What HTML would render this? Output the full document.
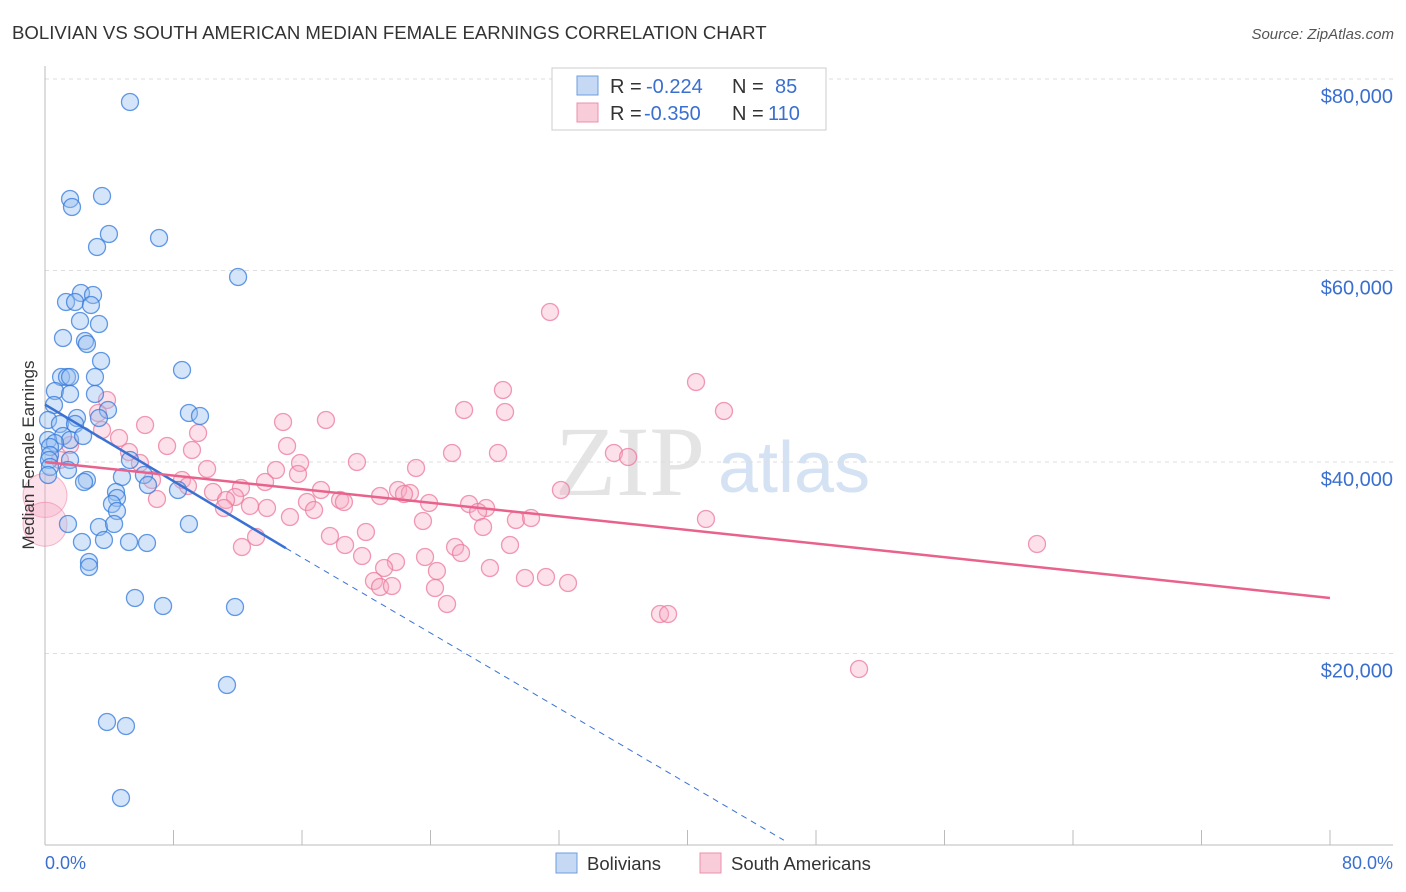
<!DOCTYPE html>
<html><head><meta charset="utf-8"><style>
body{margin:0;background:#fff;font-family:"Liberation Sans",sans-serif;}
svg{display:block}
</style></head><body>
<svg id="chart" width="1406" height="892">
<text x="12" y="39" font-size="18.6" fill="#333">BOLIVIAN VS SOUTH AMERICAN MEDIAN FEMALE EARNINGS CORRELATION CHART</text>
<text x="1394" y="39" font-size="15" fill="#555" text-anchor="end" font-style="italic">Source: ZipAtlas.com</text>
<text x="555" y="495" font-size="100" fill="#e4e4e4" font-family="Liberation Serif">ZIP</text>
<text x="718" y="492" font-size="72" fill="#d4e2f3">atlas</text>
<g id="grid"></g><g id="marks"></g>
<text transform="translate(34,455) rotate(-90)" font-size="17" fill="#333" text-anchor="middle">Median Female Earnings</text>
<text x="45" y="869" font-size="18" fill="#3a6fd0">0.0%</text>
<text x="1393" y="869" font-size="18" fill="#3a6fd0" text-anchor="end">80.0%</text>
<g>
<rect x="552" y="68" width="274" height="62" fill="#fff" stroke="#ccc"/>
<rect x="577" y="76" width="21" height="19" fill="#c5d9f5" stroke="#6d9de0"/>
<text x="610" y="93" font-size="20" fill="#333">R =</text><text x="646" y="93" font-size="20" fill="#3a6fd0">-0.224</text>
<text x="732" y="93" font-size="20" fill="#333">N =</text><text x="775" y="93" font-size="20" fill="#3a6fd0">85</text>
<rect x="577" y="103" width="21" height="19" fill="#f9ccd9" stroke="#ec8fab"/>
<text x="610" y="120" font-size="20" fill="#333">R =</text><text x="644" y="120" font-size="20" fill="#3a6fd0">-0.350</text>
<text x="732" y="120" font-size="20" fill="#333">N =</text><text x="768" y="120" font-size="20" fill="#3a6fd0">110</text>
</g>
<g><rect x="556" y="853" width="21" height="20" fill="#c5d9f5" stroke="#6d9de0"/><text x="587" y="870" font-size="18.5" fill="#333">Bolivians</text></g>
<g><rect x="700" y="853" width="21" height="20" fill="#f9ccd9" stroke="#ec8fab"/><text x="731" y="870" font-size="18.5" fill="#333">South Americans</text></g>
</svg>
<script>
const yTicks=[20000,40000,60000,80000];
const yTickLabels=["$20,000","$40,000","$60,000","$80,000"];
const bolPx=[[130,102],[102,196],[70,199],[72,207],[109,234],[159,238],[97,247],[238,277],[81,293],[93,295],[66,302],[75,302],[91,305],[80,321],[99,324],[63,338],[85,341],[87,344],[101,361],[182,370],[61,377],[67,377],[70,377],[95,377],[55,391],[70,394],[95,394],[54,405],[108,410],[189,413],[200,416],[77,418],[99,418],[48,420],[60,424],[75,424],[63,436],[70,440],[83,436],[48,440],[55,443],[50,447],[50,455],[49,460],[70,460],[50,467],[48,475],[68,470],[130,460],[144,475],[87,480],[84,482],[148,485],[178,490],[122,477],[116,492],[117,498],[112,504],[117,511],[68,524],[99,527],[114,524],[189,524],[82,542],[104,540],[129,542],[147,543],[89,562],[89,567],[135,598],[163,606],[235,607],[227,685],[107,722],[126,726],[121,798]];
const saPx=[[550,312],[696,382],[503,390],[107,400],[464,410],[505,412],[724,411],[98,413],[326,420],[145,425],[283,422],[198,433],[119,438],[102,430],[167,446],[192,450],[129,452],[287,446],[498,453],[452,453],[614,453],[628,457],[357,462],[300,463],[140,463],[207,469],[416,468],[276,470],[298,474],[182,480],[188,486],[152,480],[265,482],[321,490],[241,488],[213,492],[235,497],[226,500],[224,508],[250,506],[267,508],[157,499],[380,496],[398,490],[410,493],[404,494],[429,503],[469,504],[486,508],[478,512],[561,490],[307,502],[314,510],[340,500],[344,502],[290,517],[423,521],[516,520],[531,518],[483,527],[366,532],[256,537],[330,536],[706,519],[242,547],[345,545],[425,557],[455,547],[461,553],[510,545],[396,562],[384,568],[362,556],[437,571],[490,568],[374,581],[380,587],[392,586],[435,588],[525,578],[546,577],[568,583],[447,604],[660,614],[668,614],[859,669],[1037,544],[70,445],[60,460]];
const bolX=bolPx.map(p=>+((p[0]-45)/16.0625).toFixed(2));
const bolY=bolPx.map(p=>Math.round((845-p[1])*104.44));
const saX=saPx.map(p=>+((p[0]-45)/16.0625).toFixed(2));
const saY=saPx.map(p=>Math.round((845-p[1])*104.44));
const bigSaX=[0,0];const bigSaY=[36500,33500];
const bolTrend=[[0,46000],[15,31000],[46,500]];
const saTrend=[[0,40000],[80,25800]];
const X=v=>45+v/80*1285, Y=v=>845-v/20000*191.5;
const NS="http://www.w3.org/2000/svg";
const grid=document.getElementById('grid'),marks=document.getElementById('marks');
function mk(tag,at,par){const e=document.createElementNS(NS,tag);for(const k in at)e.setAttribute(k,at[k]);par.appendChild(e);return e;}
yTicks.forEach((t,i)=>{
 const l=mk('line',{x1:45,x2:1393,y1:Y(t),y2:Y(t),stroke:'#ddd','stroke-dasharray':'4,4'},grid);
 
 
 const tx=mk('text',{x:1393,y:Y(t)+24,'font-size':20,fill:'#3a6fd0','text-anchor':'end'},grid);tx.textContent=yTickLabels[i];
 
 
});
const ax=mk('line',{x1:45,x2:45,y1:66,y2:845,stroke:'#bbb'},grid);


const bx=mk('line',{x1:45,x2:1393,y1:845,y2:845,stroke:'#bbb'},grid);


for(let i=1;i<=10;i++){const t=mk('line',{x1:X(i*8),x2:X(i*8),y1:830,y2:845,stroke:'#bbb'},grid);
 
 }
bigSaX.forEach((x,i)=>{const c=mk('circle',{cx:X(x),cy:Y(bigSaY[i]),r:22,fill:'rgba(246,170,195,0.35)',stroke:'rgba(236,120,155,0.5)'},marks);
 
 });
saX.forEach((x,i)=>{const c=mk('circle',{cx:X(x),cy:Y(saY[i]),r:8.5,fill:'rgba(246,170,195,0.35)',stroke:'rgba(236,120,155,0.75)','stroke-width':1.3},marks);
 
 });
bolX.forEach((x,i)=>{const c=mk('circle',{cx:X(x),cy:Y(bolY[i]),r:8.5,fill:'rgba(150,190,240,0.4)',stroke:'rgba(50,120,220,0.75)','stroke-width':1.3},marks);
 
 });
let l1=mk('line',{x1:X(bolTrend[0][0]),y1:Y(bolTrend[0][1]),x2:X(bolTrend[1][0]),y2:Y(bolTrend[1][1]),stroke:'#3a72d4','stroke-width':2.5},marks);


let l2=mk('line',{x1:X(bolTrend[1][0]),y1:Y(bolTrend[1][1]),x2:X(bolTrend[2][0]),y2:Y(bolTrend[2][1]),stroke:'#3a72d4','stroke-width':1,'stroke-dasharray':'6,5'},marks);


let l3=mk('line',{x1:X(saTrend[0][0]),y1:Y(saTrend[0][1]),x2:X(saTrend[1][0]),y2:Y(saTrend[1][1]),stroke:'#e8628c','stroke-width':2.5},marks);


</script>
</body></html>
